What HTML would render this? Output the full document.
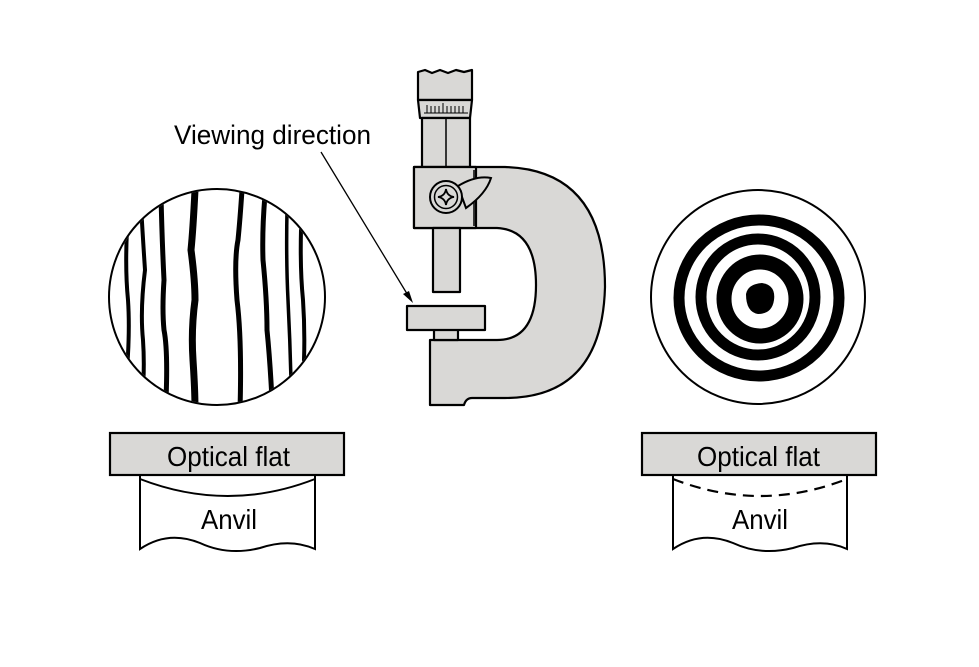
<!DOCTYPE html>
<html><head><meta charset="utf-8"><style>html,body{margin:0;padding:0;background:#fff}svg{display:block}</style></head>
<body>
<svg width="979" height="667" viewBox="0 0 979 667" xmlns="http://www.w3.org/2000/svg" font-family="Liberation Sans, sans-serif">
<defs><clipPath id="cl"><circle cx="217" cy="297" r="107"/></clipPath></defs>
<g clip-path="url(#cl)" fill="none" stroke="#000" stroke-linecap="round">
<path d="M127 230 Q125 270 128 300 Q130 330 127 370" stroke-width="4"/>
<path d="M141 205 Q143 240 145 270 Q140 310 143 340 Q145 370 142 400" stroke-width="4"/>
<path d="M161 195 Q162 240 164 280 Q162 310 164 330 Q168 350 166 400" stroke-width="5"/>
<path d="M195 190 Q193 230 191 250 Q195 280 195 300 Q191 330 193 360 Q195 390 195 410" stroke-width="7"/>
<path d="M242 190 Q240 220 238 240 Q234 260 237 300 Q242 340 240 410" stroke-width="5"/>
<path d="M265 195 Q262 230 263 260 Q267 300 267 330 Q270 360 272 400" stroke-width="5"/>
<path d="M287 210 Q286 260 288 300 Q290 340 291 380" stroke-width="3.5"/>
<path d="M301 230 Q300 270 303 300 Q305 330 304 360" stroke-width="4"/>
</g>
<circle cx="217" cy="297" r="108" fill="none" stroke="#000" stroke-width="2"/>
<circle cx="758" cy="297" r="107" fill="none" stroke="#000" stroke-width="2"/>
<g fill="none" stroke="#000">
<ellipse cx="759" cy="298" rx="80" ry="78" stroke-width="11"/>
<ellipse cx="758" cy="297" rx="57" ry="58" stroke-width="11"/>
<ellipse cx="760" cy="299" rx="36" ry="37" stroke-width="15"/>
</g>
<path d="M746 294 Q748 284 762 283 Q776 285 774 300 Q772 314 758 314 Q746 312 746 294 Z" fill="#000"/>
<g stroke="#000" stroke-width="2.2" fill="#d9d8d6" stroke-linejoin="round">
<path d="M418 72 L425 70 L432 73 L440 70 L448 73 L456 70 L464 72 L472 70 L472 100 L418 100 Z"/>
<path d="M418 100 L472 100 L470 118 L420 118 Z"/>
<rect x="422" y="118" width="48" height="50"/>
<path d="M414 167 L505 167 Q605 170 605 287 Q602 398 505 398 L472 398 Q466 398 464 405 L430 405 L430 340 L497 340 Q536 340 536 285 Q536 230 497 228 L414 228 Z"/>
<rect x="414" y="167" width="62" height="61"/>
<rect x="433" y="228" width="27" height="64"/>
<rect x="434" y="328" width="24" height="12"/>
<rect x="407" y="306" width="78" height="24"/>
</g>
<g stroke="#000" fill="none">
<line x1="446" y1="118" x2="446" y2="167" stroke-width="1.5"/>
<line x1="474" y1="170" x2="474" y2="226" stroke-width="1.5"/>
<path d="M424 113 h44 M427 105 v8 M431 106 v7 M435 106 v7 M439 106 v7 M443 103 v10 M447 106 v7 M451 106 v7 M455 106 v7 M459 106 v7 M463 106 v7" stroke-width="1"/>
<path d="M458 186 Q476 175 491 178 Q486 194 466 208 Z" fill="#d9d8d6" stroke-width="2"/>
<circle cx="446" cy="197" r="16" fill="#d9d8d6" stroke-width="2"/>
<circle cx="446" cy="197" r="11.5" stroke-width="1.5"/>
<path d="M446 189 Q447 196 454 197 Q447 198 446 205 Q445 198 438 197 Q445 196 446 189 Z" stroke-width="1.8"/>
</g>
<line x1="321" y1="152" x2="409" y2="297" stroke="#000" stroke-width="1.3"/>
<path d="M413 303 L403 294 L409 291 Z" fill="#000"/>
<text x="174" y="144" font-size="27" textLength="197" lengthAdjust="spacingAndGlyphs">Viewing direction</text>
<path d="M140 475 L140 549 Q168 530 200 543 Q228 556 260 548 Q290 538 315 549 L315 475 Z" fill="#fff" stroke="#000" stroke-width="2"/>
<path d="M140 479 Q228 513 315 479" fill="none" stroke="#000" stroke-width="2"/>
<rect x="110" y="433" width="234" height="42" fill="#d9d8d6" stroke="#000" stroke-width="2.2"/>
<text x="167" y="466" font-size="28" textLength="123" lengthAdjust="spacingAndGlyphs">Optical flat</text>
<text x="201" y="529" font-size="28" textLength="56" lengthAdjust="spacingAndGlyphs">Anvil</text>
<path d="M673 475 L673 549 Q701 530 733 543 Q761 556 793 548 Q823 538 847 549 L847 475 Z" fill="#fff" stroke="#000" stroke-width="2"/>
<path d="M673 479 Q760 513 847 479" fill="none" stroke="#000" stroke-width="2.2" stroke-dasharray="11 7"/>
<rect x="642" y="433" width="234" height="42" fill="#d9d8d6" stroke="#000" stroke-width="2.2"/>
<text x="697" y="466" font-size="28" textLength="123" lengthAdjust="spacingAndGlyphs">Optical flat</text>
<text x="732" y="529" font-size="28" textLength="56" lengthAdjust="spacingAndGlyphs">Anvil</text>
</svg>
</body></html>
